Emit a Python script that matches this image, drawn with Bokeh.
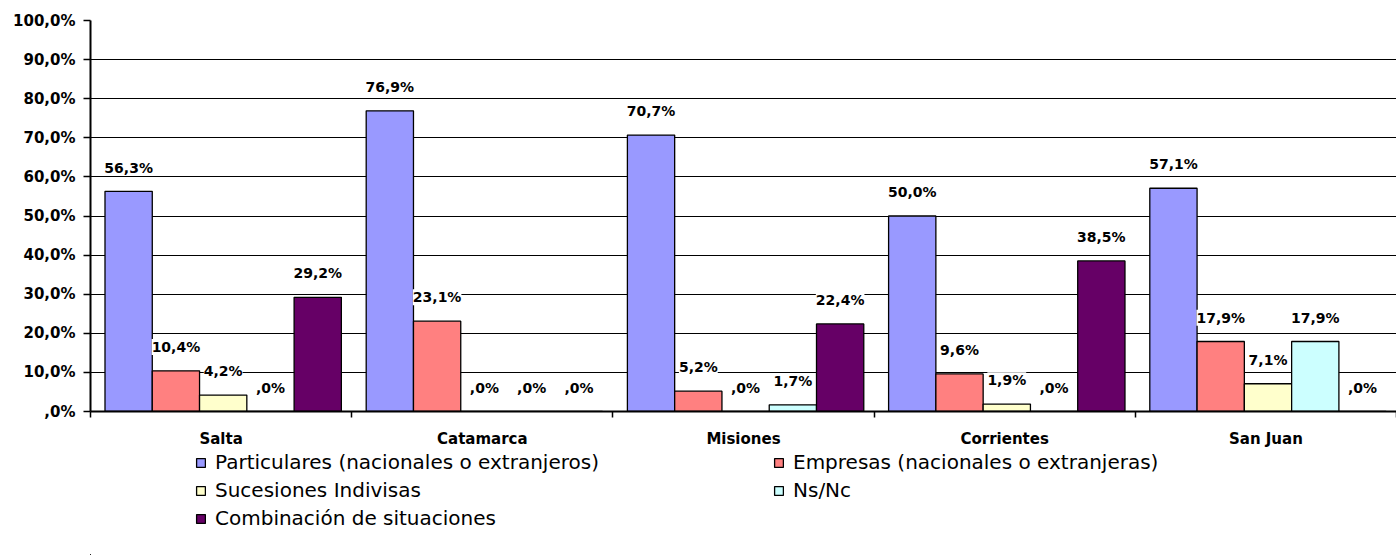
from bokeh.plotting import figure
from bokeh.layouts import column
from bokeh.core.properties import value
from bokeh.models import (ColumnDataSource, Range1d, FixedTicker, Legend, LegendItem)
from bokeh.transform import dodge
from bokeh.embed import file_html
from bokeh.resources import INLINE

provinces = ["Salta", "Catamarca", "Misiones", "Corrientes", "San Juan"]
series_names = [
    "Particulares (nacionales o extranjeros)",
    "Empresas (nacionales o extranjeras)",
    "Sucesiones Indivisas",
    "Ns/Nc",
    "Combinación de situaciones",
]
particulares = [56.3, 76.9, 70.7, 50.0, 57.1]
empresas = [10.4, 23.1, 5.2, 9.6, 17.9]
sucesiones = [4.2, 0.0, 0.0, 1.9, 7.1]
nsnc = [0.0, 0.0, 1.7, 0.0, 17.9]
combinacion = [29.2, 0.0, 22.4, 38.5, 0.0]
y_ticks = [0, 10, 20, 30, 40, 50, 60, 70, 80, 90, 100]
y_tick_labels = [",0%", "10,0%", "20,0%", "30,0%", "40,0%", "50,0%",
                 "60,0%", "70,0%", "80,0%", "90,0%", "100,0%"]

colors = ["#9999FF", "#FF8080", "#FFFFCC", "#CCFFFF", "#660066"]
all_series = [particulares, empresas, sucesiones, nsnc, combinacion]


def fmt(v):
    s = f"{v:.1f}".replace(".", ",")
    if s.startswith("0"):
        s = s[1:]
    return s + "%"


n = len(provinces)
p = figure(width=1396, height=450, output_backend="svg", toolbar_location=None,
           x_range=Range1d(-0.5, n - 0.5), y_range=Range1d(0, 100),
           min_border_left=90, min_border_top=20, min_border_bottom=39,
           min_border_right=0)
p.outline_line_color = None
p.background_fill_color = "white"
p.border_fill_color = "white"

# axes
xa = p.xaxis[0]
xa.ticker = FixedTicker(ticks=list(range(n)),
                        minor_ticks=[i - 0.5 for i in range(n + 1)])
xa.major_label_overrides = {i: provinces[i] for i in range(n)}
xa.major_tick_line_color = None
xa.major_tick_out = 0
xa.major_tick_in = 0
xa.minor_tick_line_color = "black"
xa.minor_tick_line_width = 1.5
xa.minor_tick_out = 6
xa.minor_tick_in = 0
xa.axis_line_color = "black"
xa.axis_line_width = 2
xa.major_label_text_font = "DejaVu Sans"
xa.major_label_text_font_style = "bold"
xa.major_label_text_font_size = "15px"
xa.major_label_text_color = "black"
xa.major_label_standoff = 12

ya = p.yaxis[0]
ya.ticker = FixedTicker(ticks=y_ticks)
ya.major_label_overrides = {t: l for t, l in zip(y_ticks, y_tick_labels)}
ya.major_tick_out = 7
ya.major_tick_in = 0
ya.major_tick_line_color = "black"
ya.major_tick_line_width = 1.5
ya.minor_tick_line_color = None
ya.axis_line_color = "black"
ya.axis_line_width = 2
ya.major_label_text_font = "DejaVu Sans"
ya.major_label_text_font_style = "bold"
ya.major_label_text_font_size = "15px"
ya.major_label_text_color = "black"
ya.major_label_standoff = 8

p.xgrid.grid_line_color = None
p.ygrid.ticker = FixedTicker(ticks=y_ticks)
p.ygrid.grid_line_color = "black"
p.ygrid.grid_line_width = 1.2

# data
data = {"xc": list(range(n))}
for k, s in enumerate(all_series):
    data[f"s{k}"] = s
    data[f"t{k}"] = [fmt(v) for v in s]
src = ColumnDataSource(data)

bar_w = 0.181
offsets = [(k - 2) * bar_w + 0.008 for k in range(5)]
for k in range(5):
    p.vbar(x=dodge("xc", offsets[k], range=p.x_range), top=f"s{k}", bottom=0,
           width=bar_w, source=src, fill_color=colors[k],
           line_color="black", line_width=1.3)

label_lift = 6.1  # in % units, ~24px above the bar top
for k in range(5):
    kw = dict(x=dodge("xc", offsets[k], range=p.x_range),
              y=dodge(f"s{k}", label_lift, range=p.y_range),
              text=f"t{k}", source=src, text_align="center",
              text_baseline="middle",
              text_font=value("DejaVu Sans"), text_font_style="bold",
              text_font_size="14px", text_color="black")
    try:
        p.text(background_fill_color="white", **kw)
    except Exception:
        p.text(**kw)

# legend panel (separate figure below the chart)
p2 = figure(width=1396, height=105, output_backend="svg", toolbar_location=None,
            x_range=Range1d(100, 101), y_range=Range1d(100, 101),
            min_border_left=0, min_border_right=0, min_border_top=0,
            min_border_bottom=0, x_axis_location=None, y_axis_location=None)
p2.outline_line_color = None
p2.xgrid.grid_line_color = None
p2.ygrid.grid_line_color = None
leg_renderers = []
for k in range(5):
    r = p2.vbar(x="xc", top=f"s{k}", bottom=0, width=bar_w, source=src,
                fill_color=colors[k], line_color="black", line_width=1.3)
    leg_renderers.append(r)

items = [LegendItem(label=series_names[k], renderers=[leg_renderers[k]]) for k in range(5)]
legend = Legend(items=[items[0], items[2], items[4], items[1], items[3]],
                location=(105, 25), orientation="vertical", nrows=3,
                glyph_width=11, glyph_height=11, label_standoff=9,
                label_width=554, label_height=23, spacing=4,
                padding=0, margin=0, border_line_color=None,
                background_fill_alpha=0,
                label_text_font="DejaVu Sans",
                label_text_font_size="20px",
                label_text_color="black")
p2.add_layout(legend)

layout = column(p, p2, spacing=0)
open("out.html", "w").write(file_html(layout, INLINE))
